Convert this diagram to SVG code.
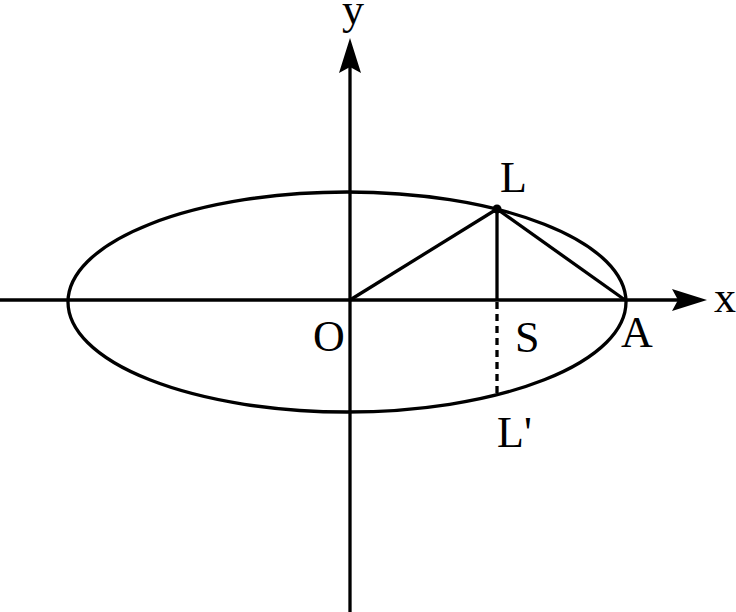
<svg xmlns="http://www.w3.org/2000/svg" width="736" height="612" viewBox="0 0 736 612">
<style>
.ln{stroke:#000;stroke-width:3.3;fill:none}
.lb{font-family:"Liberation Serif",serif;font-size:44px;fill:#000}
</style>
<rect width="736" height="612" fill="#fff"/>
<g id="ellipse"><ellipse class="ln" cx="347" cy="302" rx="279" ry="110"/></g>
<g id="connectors">
<line class="ln" x1="0" y1="300" x2="680" y2="300"/>
<path d="M707,300 L672,289 L678,300 L672,311 Z" fill="#000"/>
<line class="ln" x1="350" y1="612" x2="350" y2="66"/>
<path d="M350,38 L339,73 L350,67 L361,73 Z" fill="#000"/>
<line class="ln" x1="350" y1="300" x2="497" y2="209"/>
<line class="ln" x1="497" y1="209" x2="625" y2="300"/>
<line class="ln" x1="497" y1="209" x2="497" y2="300"/>
<line class="ln" x1="497" y1="302" x2="497" y2="395" stroke-dasharray="7,5"/>
</g>
<g id="pointL"><circle cx="497" cy="209" r="4.5" fill="#000"/><text class="lb" x="500" y="192">L</text></g>
<g id="labelY"><text class="lb" x="342" y="24">y</text></g>
<g id="labelX"><text class="lb" x="714" y="312">x</text></g>
<g id="labelO"><text class="lb" x="313" y="351">O</text></g>
<g id="labelS"><text class="lb" x="515" y="352">S</text></g>
<g id="labelA"><text class="lb" x="621" y="347">A</text></g>
<g id="labelL2"><text class="lb" x="497" y="447">L'</text></g>
</svg>
